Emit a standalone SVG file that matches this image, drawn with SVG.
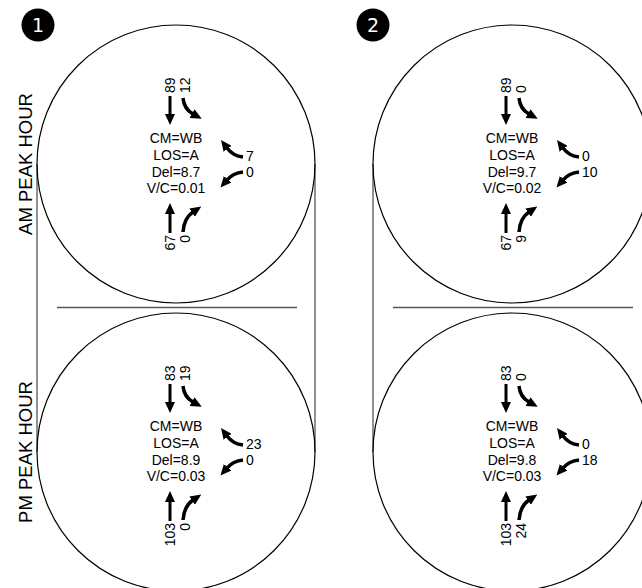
<svg xmlns="http://www.w3.org/2000/svg" width="642" height="588" viewBox="0 0 642 588">
<style>
.ring{fill:none;stroke:#000;stroke-width:1.2}
.ln{stroke:#555;stroke-width:1.3;fill:none}
.t{font-family:"Liberation Sans",Arial,sans-serif;font-size:14px;fill:#000;text-anchor:middle}
.n{font-family:"Liberation Sans",Arial,sans-serif;font-size:14px;fill:#000}
.ns{text-anchor:start}
.ne{text-anchor:end}
.ar{fill:none;stroke:#000;stroke-width:3;marker-end:url(#ah)}
.cv{fill:none;stroke:#000;stroke-width:3.5;marker-end:url(#ah)}
.side{font-family:"Liberation Sans",Arial,sans-serif;font-size:18.5px;fill:#000;text-anchor:middle}
.bd{fill:#000}
.bt{font-family:"DejaVu Sans",sans-serif;font-size:19px;fill:#fff;text-anchor:middle}
</style>
<defs>
<marker id="ah" viewBox="0 0 11 10" refX="1" refY="5" markerWidth="11" markerHeight="10" markerUnits="userSpaceOnUse" orient="auto">
<path d="M0,0 L11,5 L0,10 z" fill="#000"/>
</marker>
<g id="arrows">
<path class="ar" d="M-6,-68 V-49"/>
<path class="cv" d="M7,-66 Q8,-55 17,-50"/>
<path class="ar" d="M-6,69 V49"/>
<path class="cv" d="M7,68 Q8,54 17,48"/>
<path class="cv" d="M67,-7 Q57,-8 51,-16"/>
<path class="cv" d="M67,8 Q57,9 51,16"/>
</g>
</defs>

<g id="connectors">
<line class="ln" x1="37" y1="164" x2="37" y2="452"/>
<line class="ln" x1="315" y1="164" x2="315" y2="452"/>
<line class="ln" x1="373" y1="164" x2="373" y2="452"/>
<line class="ln" x1="57" y1="307.5" x2="297" y2="307.5"/>
<line class="ln" x1="393" y1="307.5" x2="633" y2="307.5"/>
</g>

<g id="badge1"><circle class="bd" cx="38" cy="25" r="16.5"/><text class="bt" x="38" y="32">1</text></g>
<g id="badge2"><circle class="bd" cx="373" cy="25" r="16.5"/><text class="bt" x="373" y="32">2</text></g>

<g id="label-am"><text class="side" transform="translate(32,164) rotate(-90)">AM PEAK HOUR</text></g>
<g id="label-pm"><text class="side" transform="translate(32,452) rotate(-90)">PM PEAK HOUR</text></g>

<g id="int1-am" transform="translate(176,164)">
<circle class="ring" cx="0" cy="0" r="139"/>
<use href="#arrows"/>
<text class="t" x="0" y="-21">CM=WB</text><text class="t" x="0" y="-4">LOS=A</text><text class="t" x="0" y="12.5">Del=8.7</text><text class="t" x="0" y="29">V/C=0.01</text>
<text class="n ns" transform="translate(-1,-71) rotate(-90)">89</text>
<text class="n ns" transform="translate(14,-71) rotate(-90)">12</text>
<text class="n ne" transform="translate(-1,71) rotate(-90)">67</text>
<text class="n ne" transform="translate(14,71) rotate(-90)">0</text>
<text class="n ns" x="70" y="-3">7</text>
<text class="n ns" x="70" y="13">0</text>
</g>

<g id="int1-pm" transform="translate(176,452)">
<circle class="ring" cx="0" cy="0" r="139"/>
<use href="#arrows"/>
<text class="t" x="0" y="-21">CM=WB</text><text class="t" x="0" y="-4">LOS=A</text><text class="t" x="0" y="12.5">Del=8.9</text><text class="t" x="0" y="29">V/C=0.03</text>
<text class="n ns" transform="translate(-1,-71) rotate(-90)">83</text>
<text class="n ns" transform="translate(14,-71) rotate(-90)">19</text>
<text class="n ne" transform="translate(-1,71) rotate(-90)">103</text>
<text class="n ne" transform="translate(14,71) rotate(-90)">0</text>
<text class="n ns" x="70" y="-3">23</text>
<text class="n ns" x="70" y="13">0</text>
</g>

<g id="int2-am" transform="translate(512,164)">
<circle class="ring" cx="0" cy="0" r="139"/>
<use href="#arrows"/>
<text class="t" x="0" y="-21">CM=WB</text><text class="t" x="0" y="-4">LOS=A</text><text class="t" x="0" y="12.5">Del=9.7</text><text class="t" x="0" y="29">V/C=0.02</text>
<text class="n ns" transform="translate(-1,-71) rotate(-90)">89</text>
<text class="n ns" transform="translate(14,-71) rotate(-90)">0</text>
<text class="n ne" transform="translate(-1,71) rotate(-90)">67</text>
<text class="n ne" transform="translate(14,71) rotate(-90)">9</text>
<text class="n ns" x="70" y="-3">0</text>
<text class="n ns" x="70" y="13">10</text>
</g>

<g id="int2-pm" transform="translate(512,452)">
<circle class="ring" cx="0" cy="0" r="139"/>
<use href="#arrows"/>
<text class="t" x="0" y="-21">CM=WB</text><text class="t" x="0" y="-4">LOS=A</text><text class="t" x="0" y="12.5">Del=9.8</text><text class="t" x="0" y="29">V/C=0.03</text>
<text class="n ns" transform="translate(-1,-71) rotate(-90)">83</text>
<text class="n ns" transform="translate(14,-71) rotate(-90)">0</text>
<text class="n ne" transform="translate(-1,71) rotate(-90)">103</text>
<text class="n ne" transform="translate(14,71) rotate(-90)">24</text>
<text class="n ns" x="70" y="-3">0</text>
<text class="n ns" x="70" y="13">18</text>
</g>
</svg>
